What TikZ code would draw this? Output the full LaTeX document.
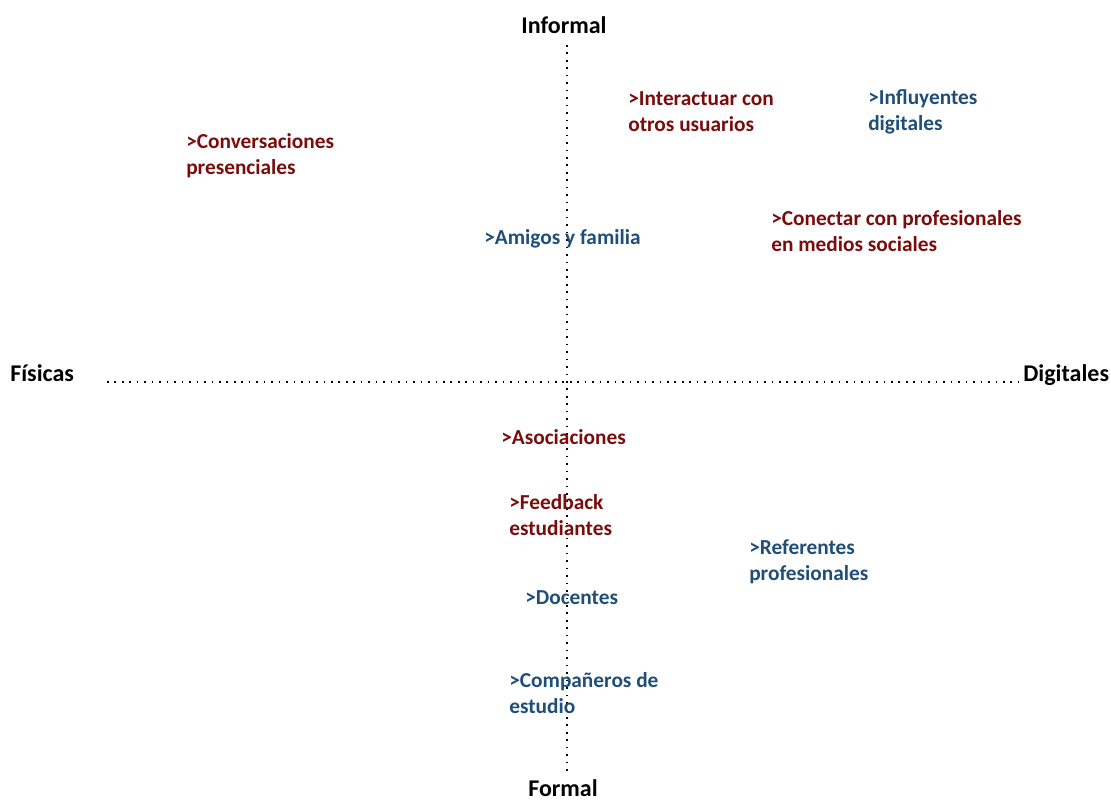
\documentclass[tikz,border=0pt]{standalone}
\usepackage{fontspec}
\setmainfont{Carlito}
\usepackage{xcolor}
\definecolor{physred}{HTML}{7A0C0C}
\definecolor{digiblue}{HTML}{1F4E79}

\begin{document}
\begin{tikzpicture}[x=0.75pt, y=-0.75pt,
    every node/.style={font=\fontsize{16}{19.5}\selectfont\bfseries, inner sep=0pt},
    axislabel/.style={text=black, font=\fontsize{18}{21}\selectfont\bfseries},
    redsrc/.style={text=physred, anchor=west, align=left},
    bluesrc/.style={text=digiblue, anchor=west, align=left},
    axisline/.style={line width=1.2pt, dash pattern=on 1.2pt off 4.4pt}]
  \useasboundingbox (0,0) rectangle (1111,803);
  % axes
  \coordinate (top) at (567,45);
  \coordinate (bottom) at (567,776);
  \coordinate (left) at (107,382);
  \coordinate (right) at (1018,382);
  \draw[axisline] (top) -- (bottom);
  \draw[axisline] (left) -- (right);
  \node[axislabel] (informal) at (564,25) {Informal};
  \node[axislabel] (formal) at (563,788) {Formal};
  \node[axislabel, anchor=base west] (fisicas) at (10,381) {Físicas};
  \node[axislabel, anchor=base west] (digitales) at (1023,381) {Digitales};
  % sources, upper half
  \node[redsrc] (conversaciones) at (186,156) {>Conversaciones\\presenciales};
  \node[redsrc] (interactuar) at (628,112) {>Interactuar con\\otros usuarios};
  \node[bluesrc] (influyentes) at (868,112) {>Influyentes\\digitales};
  \node[redsrc] (conectar) at (771,231) {>Conectar con profesionales\\en medios sociales};
  \node[bluesrc] (amigos) at (484,239) {>Amigos y familia};
  % sources, lower half
  \node[redsrc] (asociaciones) at (501,437) {>Asociaciones};
  \node[redsrc] (feedback) at (509,515) {>Feedback\\estudiantes};
  \node[bluesrc] (referentes) at (749,562) {>Referentes\\profesionales};
  \node[bluesrc] (docentes) at (525,598) {>Docentes};
  \node[bluesrc] (companeros) at (509,693) {>Compañeros de\\estudio};
\end{tikzpicture}
\end{document}
